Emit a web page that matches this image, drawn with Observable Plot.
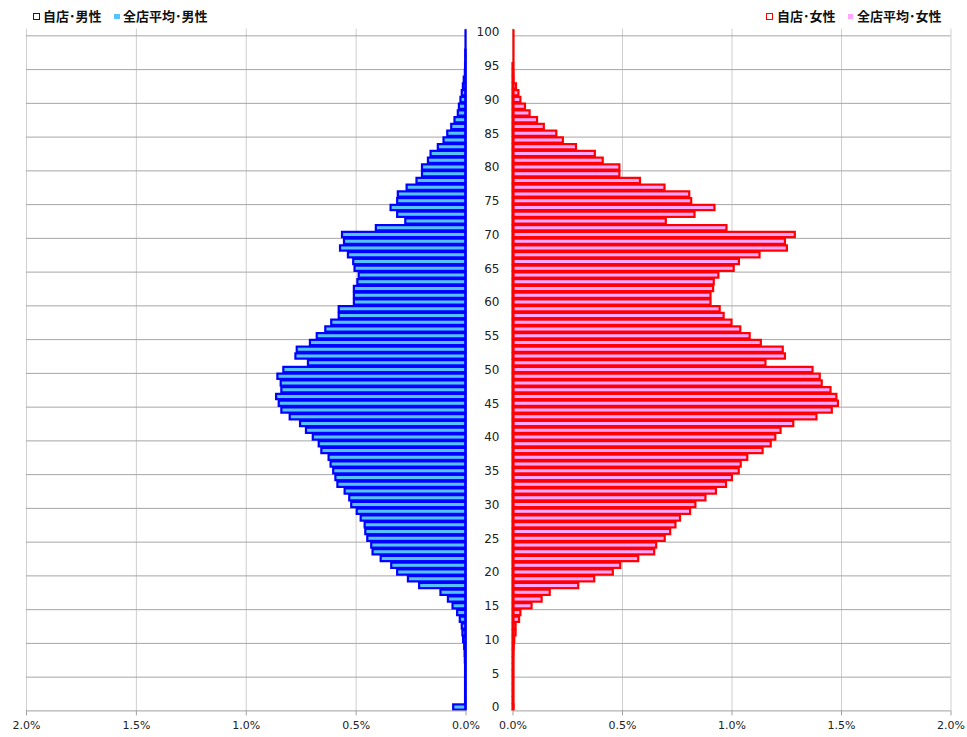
<!DOCTYPE html>
<html>
<head>
<meta charset="utf-8">
<script src="https://cdn.jsdelivr.net/npm/d3@7"></script>
<script src="https://cdn.jsdelivr.net/npm/@observablehq/plot@0.6"></script>
<style>
  html, body { margin: 0; padding: 0; background: #fff; }
  #wrap { position: relative; width: 967px; height: 737px; overflow: hidden; }
  #legend { position: relative; width: 967px; height: 24px; font-family: "Noto Sans CJK JP", sans-serif; font-weight: 700; font-size: 13px; color: #111; }
  #legend .sw { position: absolute; box-sizing: border-box; }
  #legend .tx { position: absolute; top: 6px; line-height: 19px; white-space: nowrap; }
  #charts { display: flex; }
</style>
</head>
<body>
<div id="wrap">
  <div id="legend"></div>
  <div id="charts"></div>
</div>
<script>
// Age categories (0 .. 100)
const ages = d3.range(0, 101);
const ageTicks = [0, 5, 10, 15, 20, 25, 30, 35, 40, 45, 50, 55, 60, 65, 70, 75, 80, 85, 90, 95, 100];
const xTicks = [0, 0.5, 1.0, 1.5, 2.0];

// Legend labels
const seriesLabels = {
  maleOwn: "自店･男性",
  maleAvg: "全店平均･男性",
  femaleOwn: "自店･女性",
  femaleAvg: "全店平均･女性"
};

// Share of customers (%) by age, male (index = age 0..100)
const maleValues = [
  0.056, 0.002, 0.002, 0.002, 0.002, 0.002, 0.002, 0.003, 0.004, 0.006,
  0.011, 0.014, 0.017, 0.026, 0.038, 0.059, 0.080, 0.114, 0.211, 0.262,
  0.311, 0.338, 0.386, 0.423, 0.429, 0.447, 0.456, 0.459, 0.477, 0.495,
  0.520, 0.529, 0.550, 0.583, 0.592, 0.602, 0.614, 0.623, 0.656, 0.668,
  0.695, 0.726, 0.753, 0.800, 0.838, 0.850, 0.862, 0.838, 0.841, 0.856,
  0.829, 0.717, 0.774, 0.768, 0.708, 0.677, 0.638, 0.611, 0.577, 0.577,
  0.508, 0.508, 0.508, 0.492, 0.486, 0.505, 0.511, 0.535, 0.571, 0.553,
  0.562, 0.408, 0.274, 0.311, 0.341, 0.311, 0.308, 0.268, 0.223, 0.198,
  0.198, 0.171, 0.159, 0.126, 0.100, 0.083, 0.065, 0.050, 0.035, 0.030,
  0.023, 0.017, 0.012, 0.008, 0.003, 0.002, 0.001, 0.001, 0, 0,
  0
];

// Share of customers (%) by age, female (index = age 0..100)
const femaleValues = [
  0.004, 0.001, 0.001, 0.001, 0.001, 0.001, 0.002, 0.002, 0.003, 0.005,
  0.008, 0.014, 0.014, 0.030, 0.036, 0.087, 0.133, 0.170, 0.300, 0.373,
  0.458, 0.492, 0.574, 0.647, 0.656, 0.695, 0.720, 0.744, 0.765, 0.811,
  0.835, 0.881, 0.929, 0.975, 1.002, 1.033, 1.042, 1.072, 1.142, 1.179,
  1.200, 1.224, 1.282, 1.388, 1.458, 1.486, 1.479, 1.452, 1.412, 1.403,
  1.370, 1.155, 1.244, 1.234, 1.134, 1.083, 1.040, 1.000, 0.964, 0.946,
  0.904, 0.904, 0.916, 0.919, 0.940, 1.010, 1.034, 1.128, 1.253, 1.244,
  1.289, 0.977, 0.700, 0.831, 0.922, 0.816, 0.807, 0.694, 0.582, 0.488,
  0.488, 0.412, 0.376, 0.290, 0.230, 0.200, 0.143, 0.112, 0.078, 0.057,
  0.036, 0.027, 0.016, 0.004, 0.003, 0.002, 0, 0, 0, 0,
  0
];

const colors = {
  maleStroke: "#0000ff", maleFill: "#55c3ff",
  femaleStroke: "#ff0000", femaleFill: "#ffa6ff",
  gridH: "#a6a6a6", gridV: "#cfcfcf", axis: "#a0a0a0", text: "#222"
};

const maleData = ages.map((a, i) => ({age: a, value: maleValues[i]}));
const femaleData = ages.map((a, i) => ({age: a, value: femaleValues[i]}));

const H = 713, MT = 4.6, MB = 26.6;
const half = 0.39;
const pct = d => d.toFixed(1) + "%";

function panel(data, side) {
  const isMale = side === "male";
  const stroke = isMale ? colors.maleStroke : colors.femaleStroke;
  const fill = isMale ? colors.maleFill : colors.femaleFill;
  const marks = [
    Plot.ruleX(xTicks.filter(t => t > 0), {y1: -0.5, y2: 100.5, stroke: colors.gridV}),
    Plot.ruleY(ageTicks.filter(t => t > 0), {y: t => t - 0.5, stroke: colors.gridH}),
    Plot.ruleX([0], {y1: -0.5, y2: 100.5, stroke: colors.axis}),
    Plot.rect(data, {
      x1: d => 0, x2: "value",
      y1: d => d.age - half, y2: d => d.age + half,
      fill, stroke, strokeWidth: 2.2
    }),
    Plot.ruleX([0], {y1: -half, y2: 100 + half, stroke, strokeWidth: 2.2, dx: isMale ? -0.5 : 0.5}),
    Plot.ruleY([-0.5], {stroke: colors.axis}),
    Plot.axisX({ticks: xTicks, tickFormat: pct, tickSize: 5, tickPadding: 5, stroke: colors.axis, fill: colors.text, fontSize: 11, label: null})
  ];
  if (!isMale) {
    marks.push(Plot.axisY({ticks: ageTicks, anchor: "left", tickSize: 0, tickPadding: 13.5, fill: colors.text, fontSize: 12, label: null}));
  }
  return Plot.plot({
    width: isMale ? 489 : 478,
    height: H,
    marginTop: MT,
    marginBottom: MB,
    marginLeft: isMale ? 26 : 23.5,
    marginRight: isMale ? 23.5 : 16.5,
    x: {domain: [0, 2], reverse: isMale, label: null},
    y: {domain: [-0.5, 100.5], label: null, axis: isMale ? null : undefined},
    style: {background: "transparent", fontFamily: "'DejaVu Sans', sans-serif", color: colors.text, overflow: "visible"},
    marks
  });
}

const charts = document.getElementById("charts");
charts.appendChild(panel(maleData, "male"));
charts.appendChild(panel(femaleData, "female"));

// Legend
const legend = document.getElementById("legend");
function addSwatch(x, y, size, fill, border) {
  const s = document.createElement("div");
  s.className = "sw";
  s.style.left = x + "px"; s.style.top = y + "px";
  s.style.width = size + "px"; s.style.height = size + "px";
  s.style.background = fill;
  if (border) s.style.border = "1.8px solid " + border;
  legend.appendChild(s);
}
function addText(x, t) {
  const s = document.createElement("div");
  s.className = "tx";
  s.style.left = x + "px";
  s.textContent = t;
  legend.appendChild(s);
}
addSwatch(32.5, 12.5, 7.5, "#fff", colors.maleStroke);
addText(43, seriesLabels.maleOwn);
addSwatch(114, 13.5, 5.5, colors.maleFill, null);
addText(123, seriesLabels.maleAvg);
addSwatch(765.5, 12.5, 7.5, "#fff", colors.femaleStroke);
addText(777, seriesLabels.femaleOwn);
addSwatch(847.5, 13.5, 5.5, colors.femaleFill, null);
addText(857, seriesLabels.femaleAvg);
</script>
</body>
</html>
